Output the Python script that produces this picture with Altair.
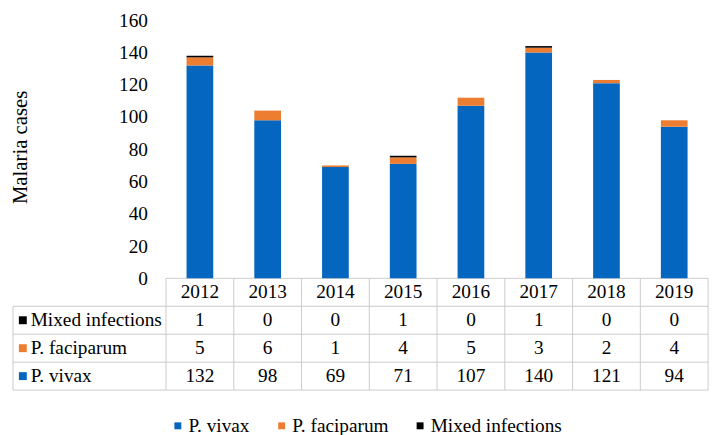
import altair as alt
import pandas as pd

# ---- data ----
years = [2012, 2013, 2014, 2015, 2016, 2017, 2018, 2019]
vivax = [132, 98, 69, 71, 107, 140, 121, 94]
faciparum = [5, 6, 1, 4, 5, 3, 2, 4]
mixed = [1, 0, 0, 1, 0, 1, 0, 0]
series_names = ["P. vivax", "P. faciparum", "Mixed infections"]
series_colors = ["#0566C0", "#ED7D31", "#000000"]
table_rows = ["Mixed infections", "P. faciparum", "P. vivax"]
y_ticks = [0, 20, 40, 60, 80, 100, 120, 140, 160]

values_by_series = {"P. vivax": vivax, "P. faciparum": faciparum, "Mixed infections": mixed}

# ---- layout constants (pixels) ----
FONT = "Liberation Serif"
FS = 19.5
GRID = "#CBCBCB"
PAD_TOP = 10
W, H = 713, 374
ZERO_PX = 261                     # distance of the zero line from plot top
COL_W = 69.5
LABEL_COL = 157 / COL_W           # label column width in year units
X0 = years[0] - 0.5 - LABEL_COL   # left edge of table
X1 = years[-1] + 0.5              # right edge of table
Y_MAX = 160
Y_MIN = Y_MAX - Y_MAX * H / ZERO_PX                     # bars scale bottom
ROW_TOP = (ZERO_PX * 3.5 + 0.5 * H) / (ZERO_PX - H)     # table scale top (row units)
ROW_TOP = -ROW_TOP if ROW_TOP > 0 else ROW_TOP

xscale = alt.Scale(domain=[X0, X1], nice=False, zero=False)
rowscale = alt.Scale(domain=[ROW_TOP, 3.5], nice=False, zero=False, reverse=True)
color_scale = alt.Scale(domain=series_names, range=series_colors)

bars_df = pd.DataFrame([
    {"year": y, "series": s, "cases": v, "order": k}
    for k, s in enumerate(series_names)
    for y, v in zip(years, values_by_series[s])
])

cells_df = pd.DataFrame(
    [{"year": y, "r": 0, "txt": str(y)} for y in years]
    + [{"year": y, "r": i + 1, "txt": str(v)}
       for i, s in enumerate(table_rows)
       for y, v in zip(years, values_by_series[s])]
)

labels_df = pd.DataFrame({"x": [X0] * 3, "r": [1, 2, 3], "series": table_rows})

hlines_df = pd.DataFrame(
    [{"x": years[0] - 0.5, "x2": X1, "r": -0.5}]
    + [{"x": X0, "x2": X1, "r": b + 0.5} for b in range(4)]
)
vlines_df = pd.DataFrame(
    [{"x": years[0] - 0.5 + k, "r": -0.5, "r2": 3.5} for k in range(len(years) + 1)]
    + [{"x": X0, "r": 0.5, "r2": 3.5}]
)

X_ENC = dict(scale=xscale, axis=None)

hlines = alt.Chart(hlines_df).mark_rule(color=GRID, strokeWidth=1).encode(
    x=alt.X("x:Q", **X_ENC), x2="x2:Q",
    y=alt.Y("r:Q", scale=rowscale, axis=None),
)
vlines = alt.Chart(vlines_df).mark_rule(color=GRID, strokeWidth=1).encode(
    x=alt.X("x:Q", **X_ENC),
    y=alt.Y("r:Q", scale=rowscale, axis=None), y2="r2:Q",
)

bars = alt.Chart(bars_df).mark_bar(size=27).encode(
    x=alt.X("year:Q", **X_ENC),
    y=alt.Y(
        "cases:Q", stack="zero",
        scale=alt.Scale(domain=[Y_MIN, Y_MAX], nice=False, zero=False),
        axis=alt.Axis(
            orient="left", values=y_ticks, offset=-157, domain=False, ticks=False,
            grid=False, labelPadding=16, labelFont=FONT, labelFontSize=FS,
            labelColor="black", title="Malaria cases", titleFont=FONT,
            titleFontSize=21, titleFontWeight="normal", titleColor="black",
            titleX=-144, titleY=128, titleAngle=270, titleAlign="center",
            titleBaseline="middle",
        ),
    ),
    color=alt.Color(
        "series:N", scale=color_scale,
        legend=alt.Legend(
            title=None, orient="none", legendX=162, legendY=400,
            direction="horizontal", symbolType="square", symbolSize=49,
            symbolStrokeWidth=0, labelFont=FONT, labelFontSize=FS,
            labelColor="black", labelOffset=1, columnPadding=22, padding=0,
        ),
    ),
    order=alt.Order("order:Q", sort="ascending"),
)

cells = alt.Chart(cells_df).mark_text(
    font=FONT, fontSize=FS, color="black", baseline="middle"
).encode(
    x=alt.X("year:Q", **X_ENC),
    y=alt.Y("r:Q", scale=rowscale, axis=None),
    text="txt:N",
)

label_text = alt.Chart(labels_df).mark_text(
    font=FONT, fontSize=FS, color="black", align="left", baseline="middle", dx=18
).encode(
    x=alt.X("x:Q", **X_ENC),
    y=alt.Y("r:Q", scale=rowscale, axis=None),
    text="series:N",
)

label_sq = alt.Chart(labels_df).mark_square(
    size=64, xOffset=10, opacity=1, filled=True
).encode(
    x=alt.X("x:Q", **X_ENC),
    y=alt.Y("r:Q", scale=rowscale, axis=None),
    color=alt.Color("series:N", scale=color_scale),
)

chart = alt.layer(hlines, vlines, bars, cells, label_text, label_sq).resolve_scale(
    y="independent"
).properties(
    width=W, height=H, autosize="none",
    padding={"left": 0, "top": PAD_TOP, "right": 4, "bottom": 427 - PAD_TOP - H},
).configure_view(stroke=None)

chart.save("out.html", embed_options={"renderer": "svg", "actions": False})
